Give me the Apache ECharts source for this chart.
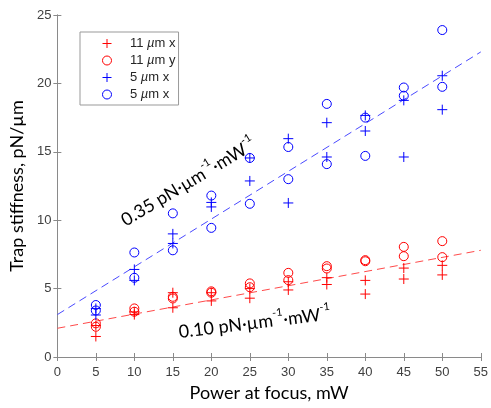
<!DOCTYPE html>
<html><head><meta charset="utf-8">
<script src="https://cdn.jsdelivr.net/npm/echarts@6/dist/echarts.min.js"></script>
<style>html,body{margin:0;padding:0;background:#fff}#c{width:491px;height:408px}</style>
</head><body><div id="c"></div>
<script>
// ---- data ----
const powers = [5, 10, 15, 20, 25, 30, 35, 40, 45, 50];
const red11xA = [2.3, 3.3, 4.7, 4.7, 5.0, 5.5, 5.8, 5.6, 6.5, 6.7];
const red11xB = [1.5, 3.1, 3.6, 4.1, 4.3, 4.9, 5.3, 4.6, 5.7, 6.0];
const red11yA = [2.46, 3.55, 4.4, 4.8, 5.38, 6.15, 6.64, 7.08, 8.05, 8.47];
const red11yB = [2.21, 3.31, 4.28, 4.7, 5.1, 5.62, 6.47, 7.0, 7.37, 7.3];
const blue5xA = [3.55, 6.4, 9.0, 11.3, 14.55, 15.96, 17.13, 17.66, 18.76, 20.56];
const blue5xB = [3.07, 5.6, 8.3, 10.97, 12.87, 11.26, 14.62, 16.52, 14.62, 18.08];
const blue5oA = [3.8, 7.64, 10.5, 11.8, 14.55, 15.35, 18.5, 17.5, 19.7, 23.9];
const blue5oB = [3.4, 5.79, 7.8, 9.44, 11.2, 13.0, 14.1, 14.7, 19.1, 19.75];
const fitX = [0, 55];
const blueFit = [3.1, 22.3];
const redFit = [2.1, 7.8];
const seriesKeys = ['s1', 's2', 's3', 's4'];
const legendLabels = ['11 {i|\u00b5}m x', '11 {i|\u00b5}m y', '5 {i|\u00b5}m x', '5 {i|\u00b5}m x'];
const xLabel = 'Power at focus, mW';
const yLabel = 'Trap stiffness, pN/\u00b5m';
const blueNote = ['0.35 pN\u00b7\u00b5m', '-1', '\u00b7mW', '-1'];
const redNote = ['0.10 pN\u00b7\u00b5m', '-1', '\u00b7mW', '-1'];

const pairs = (a, b) => powers.map((p, i) => [p, a[i]]).concat(powers.map((p, i) => [p, b[i]]));
const fitLine = (v) => fitX.map((x, i) => [x, v[i]]);

const PLUS = 'path://M0,5L10,5M5,0L5,10';
const RED = '#ff0000', BLUE = '#0000ff';
const AX = '#8a8a8a', LBL = '#404040';
const TXT = 'Lato, "Open Sans", sans-serif';
const ARIAL = '"Liberation Sans", Arial, sans-serif';

const chart = echarts.init(document.getElementById('c'), null, {renderer: 'canvas'});
const axBase = {
  min: 0, interval: 5, splitLine: {show: false},
  axisLine: {show: true, lineStyle: {color: AX, width: 1}},
  axisTick: {show: true, inside: true, length: 4, lineStyle: {color: AX}},
};
function scatter(key, data, sym, color, size) {
  return {
    type: 'scatter', name: key, data: data, symbol: sym, symbolSize: size,
    itemStyle: {color: sym === 'circle' ? 'rgba(0,0,0,0)' : color, borderColor: color, borderWidth: 1, opacity: 1},
    emphasis: {disabled: true}, z: 3
  };
}
const option = {
  animation: false,
  backgroundColor: '#fff',
  grid: {left: 53, right: 3, top: 15, bottom: 51, containLabel: false},
  xAxis: [
    Object.assign({}, axBase, {type: 'value', max: 55, position: 'bottom',
      name: xLabel, nameLocation: 'middle', nameGap: 26,
      nameTextStyle: {fontFamily: TXT, fontSize: 18, color: '#000'},
      axisLabel: {fontFamily: ARIAL, fontSize: 13, color: LBL, margin: 9, showMaxLabel: true}}),
    Object.assign({}, axBase, {type: 'value', max: 55, position: 'top', axisLabel: {show: false}})
  ],
  yAxis: [
    Object.assign({}, axBase, {type: 'value', max: 25, position: 'left',
      name: yLabel, nameLocation: 'middle', nameGap: 27,
      nameTextStyle: {fontFamily: TXT, fontSize: 18, color: '#000'},
      axisLabel: {fontFamily: ARIAL, fontSize: 13, color: LBL, margin: 6}}),
    Object.assign({}, axBase, {type: 'value', max: 25, position: 'right', axisLabel: {show: false}})
  ],
  legend: {
    data: seriesKeys, orient: 'vertical', left: 80, top: 32,
    padding: [4, 3, 3, 22], itemGap: 2, itemWidth: 36, itemHeight: 9,
    backgroundColor: '#fff', borderColor: '#999', borderWidth: 1, borderRadius: 0,
    itemStyle: {borderWidth: 1},
    formatter: (n) => legendLabels[seriesKeys.indexOf(n)],
    textStyle: {fontFamily: ARIAL, fontSize: 13, color: '#262626', lineHeight: 15,
      rich: {i: {fontFamily: ARIAL, fontStyle: 'italic', fontSize: 13, color: '#262626', lineHeight: 15}}},
    selectedMode: false
  },
  series: [
    scatter('s1', pairs(red11xA, red11xB), PLUS, RED, 10),
    scatter('s2', pairs(red11yA, red11yB), 'circle', RED, 9),
    scatter('s3', pairs(blue5xA, blue5xB), PLUS, BLUE, 10),
    scatter('s4', pairs(blue5oA, blue5oB), 'circle', BLUE, 9),
    {type: 'line', name: 'fitBlue', data: fitLine(blueFit), showSymbol: false, symbol: 'none',
      lineStyle: {color: '#4a4aff', width: 1, type: [8, 5]}, z: 2, silent: true},
    {type: 'line', name: 'fitRed', data: fitLine(redFit), showSymbol: false, symbol: 'none',
      lineStyle: {color: '#ff4a4a', width: 1, type: [8, 5]}, z: 2, silent: true}
  ]
};
chart.setOption(option);

function note(parts, at, deg) {
  const p = chart.convertToPixel({gridIndex: 0}, at);
  return {
    type: 'text', x: p[0], y: p[1], rotation: deg * Math.PI / 180, z: 10,
    style: {
      text: '{a|' + parts[0] + '}{s|' + parts[1] + '}{a|' + parts[2] + '}{s|' + parts[3] + '}',
      align: 'center', verticalAlign: 'middle',
      rich: {
        a: {fontFamily: TXT, fontStyle: 'normal', fontSize: 18, fill: '#000', lineHeight: 22, verticalAlign: 'bottom'},
        s: {fontFamily: TXT, fontStyle: 'normal', fontSize: 11, fill: '#000', lineHeight: 20, verticalAlign: 'top'}
      }
    }
  };
}
chart.setOption({graphic: [note(blueNote, [16.9, 12.9], 31), note(redNote, [25.6, 2.63], 7)]});
</script></body></html>
